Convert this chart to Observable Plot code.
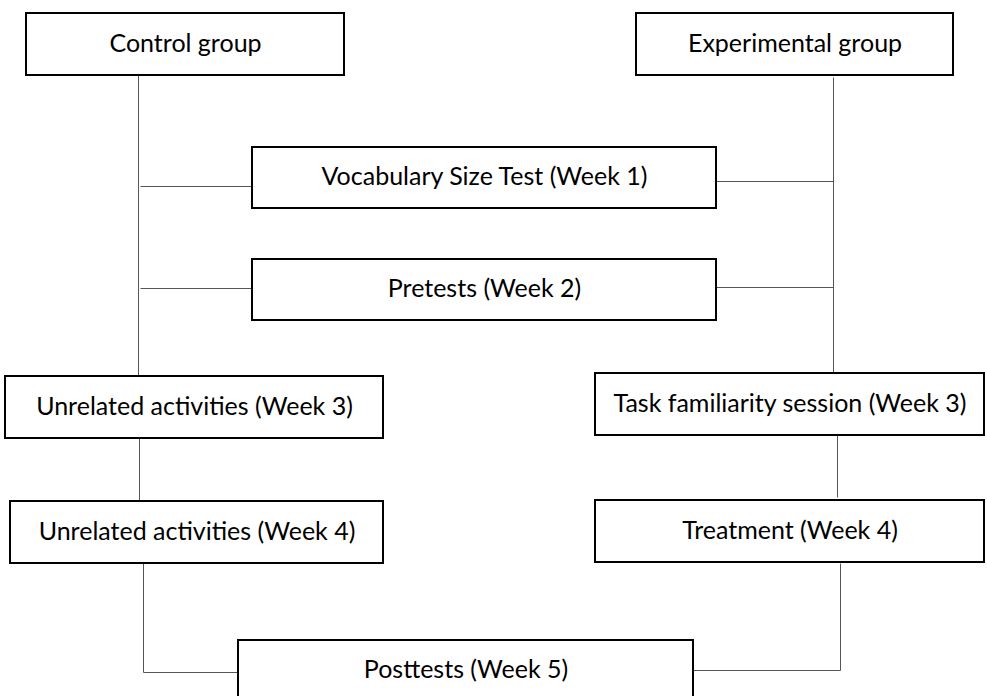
<!DOCTYPE html>
<html>
<head>
<meta charset="utf-8">
<script src="https://cdn.jsdelivr.net/npm/d3@7"></script>
<script src="https://cdn.jsdelivr.net/npm/@observablehq/plot@0.6"></script>
<style>
html,body{margin:0;padding:0;background:#fff;overflow:hidden;}
</style>
</head>
<body>
<div id="chart"></div>
<script>
// Boxes of the flow diagram (page coordinates of the diagram)
const boxLabels = [
  "Control group", "Experimental group",
  "Vocabulary Size Test (Week 1)", "Pretests (Week 2)",
  "Unrelated activities (Week 3)", "Task familiarity session (Week 3)",
  "Unrelated activities (Week 4)", "Treatment (Week 4)",
  "Posttests (Week 5)"
];
const boxLeft   = [26, 636, 252, 252, 5, 595, 10, 595, 238];
const boxRight  = [344, 953, 716, 716, 383, 984, 383, 984, 693];
const boxTop    = [13, 13, 147, 259, 376, 373, 501, 500, 640];
const boxBottom = [75, 75, 208, 320, 438, 435, 563, 562, 700];

// Connector segments
const lineX1 = [138, 140, 140, 833, 716, 716, 139, 837, 143, 143, 840, 693];
const lineY1 = [75, 186, 288, 77, 181, 287, 438, 435, 563, 672, 563, 670];
const lineX2 = [138, 252, 252, 833, 833, 833, 139, 837, 143, 238, 840, 840];
const lineY2 = [376, 186, 288, 373, 181, 287, 501, 497, 672, 672, 670, 670];

const boxes = boxLabels.map((label, i) => ({
  label, x1: boxLeft[i], x2: boxRight[i], y1: boxTop[i], y2: boxBottom[i],
  cx: (boxLeft[i] + boxRight[i]) / 2,
  cy: i === 8 ? 669 : (boxTop[i] + boxBottom[i]) / 2 - 1
}));
const lines = lineX1.map((x1, i) => ({x1, y1: lineY1[i], x2: lineX2[i], y2: lineY2[i]}));

const chart = Plot.plot({
  width: 987,
  height: 696,
  margin: 0,
  x: {domain: [0, 987], range: [0, 987], axis: null},
  y: {domain: [0, 696], range: [0, 696], axis: null},
  style: {background: "#fff", fontFamily: "Lato, 'Open Sans', sans-serif"},
  marks: [
    Plot.link(lines, {x1: "x1", y1: "y1", x2: "x2", y2: "y2", stroke: "#555", strokeWidth: 1}),
    Plot.rect(boxes, {x1: "x1", x2: "x2", y1: "y1", y2: "y2", fill: "#fff", stroke: "#000", strokeWidth: 2, clip: true}),
    Plot.text(boxes, {x: "cx", y: "cy", text: "label", fontSize: 25, fill: "#000", textAnchor: "middle", lineAnchor: "middle"})
  ]
});
document.getElementById("chart").append(chart);
</script>
</body>
</html>
